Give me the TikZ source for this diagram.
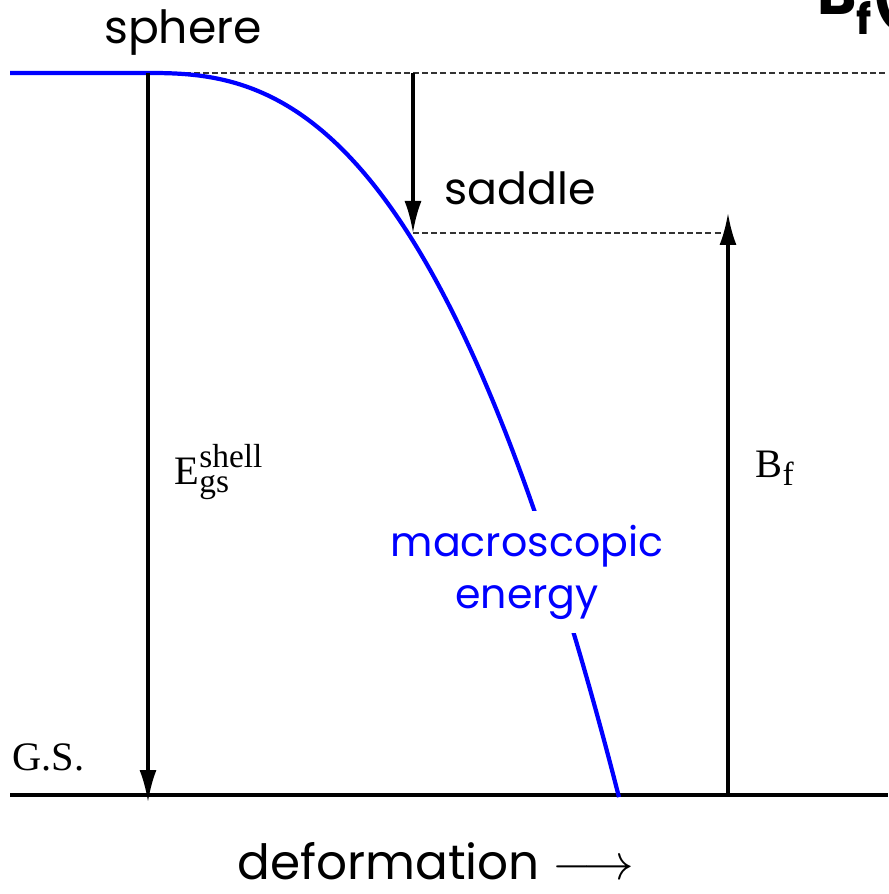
\documentclass[tikz,border=0pt]{standalone}
\usepackage{fontspec}
\setmainfont{Liberation Serif}
\newfontfamily\comicfont{Poppins}
\usetikzlibrary{arrows.meta}
\definecolor{curveblue}{HTML}{0000FF}

\tikzset{
  level/.style={line width=0.9pt},
  guide/.style={line width=0.6pt, black!80, dash pattern=on 1.7pt off 0.9pt},
  gap/.style={line width=0.9pt, ->},
  handlabel/.style={font=\comicfont\fontsize{13}{15}\selectfont},
  printlabel/.style={font=\fontsize{11.5}{13}\selectfont},
}

\begin{document}
\begin{tikzpicture}[>={Latex[length=3.2mm,width=1.7mm]}]
    \useasboundingbox (0,0) rectangle (8.88,8.94);

    \coordinate (GL) at (0.10,0.99);
    \coordinate (GR) at (8.88,0.99);
    \coordinate (Sph) at (1.48,8.21);
    \coordinate (SphG) at (1.48,0.99);
    \coordinate (Top) at (4.13,8.21);
    \coordinate (Sad) at (4.13,6.61);
    \coordinate (BfT) at (7.28,6.61);
    \coordinate (BfG) at (7.28,0.99);
    \coordinate (TopR) at (8.88,8.21);

    % Reference levels
    \draw[guide] (Sph) -- (TopR);
    \draw[guide] (Sad) -- (BfT);
    \draw[level] (GL) -- (GR);

    % Macroscopic energy
    \draw[curveblue, line width=1.2pt] (0.10,8.21) -- (Sph)
        -- plot[domain=1.48:6.19, samples=80, smooth] (\x, {8.21-0.1414*pow(\x-1.48,2.54)});

    % Gaps
    \draw[gap, shorten >=-2pt] (Sph) -- (SphG);
    \draw[gap] (Top) -- (Sad);
    \draw[gap, shorten >=-0.2cm] (BfG) -- (BfT);

    % Labels
    \node[handlabel] (sphere) at (1.83,8.61) {sphere};
    \node[handlabel, font=\comicfont\fontsize{12.6}{15}\selectfont] (saddle) at (5.20,7.06) {saddle};
    \node[printlabel, anchor=west, inner sep=0pt] (Eshell) at (1.74,4.22)
        {E\raisebox{-0.45ex}{\makebox[0pt][l]{\raisebox{1.35ex}{\fontsize{9.5}{10}\selectfont shell}}\fontsize{9.5}{10}\selectfont gs}};
    \node[printlabel, anchor=west, inner sep=0pt] (Bf) at (7.55,4.26)
        {B\raisebox{-0.45ex}{\fontsize{9.5}{10}\selectfont f}};
    \node[printlabel, anchor=west, inner sep=0pt] (GS) at (0.12,1.37) {G.S.};
    \node[handlabel, font=\comicfont\fontsize{11.7}{14.8}\selectfont, fill=white,
          text=curveblue, align=center, inner xsep=8pt, inner ysep=4pt] (macro) at (5.27,3.22) {macroscopic\\energy};
    \node[handlabel, font=\comicfont\fontsize{13.8}{17}\selectfont, inner sep=0pt] (deform) at (4.36,0.33)
        {deformation $\longrightarrow$};
    \node[anchor=base west, font=\comicfont\bfseries\fontsize{17}{19}\selectfont] (BfCut) at (8.05,8.79)
        {B\raisebox{-5.5pt}{\fontsize{12}{14}\selectfont f}(};
\end{tikzpicture}
\end{document}
